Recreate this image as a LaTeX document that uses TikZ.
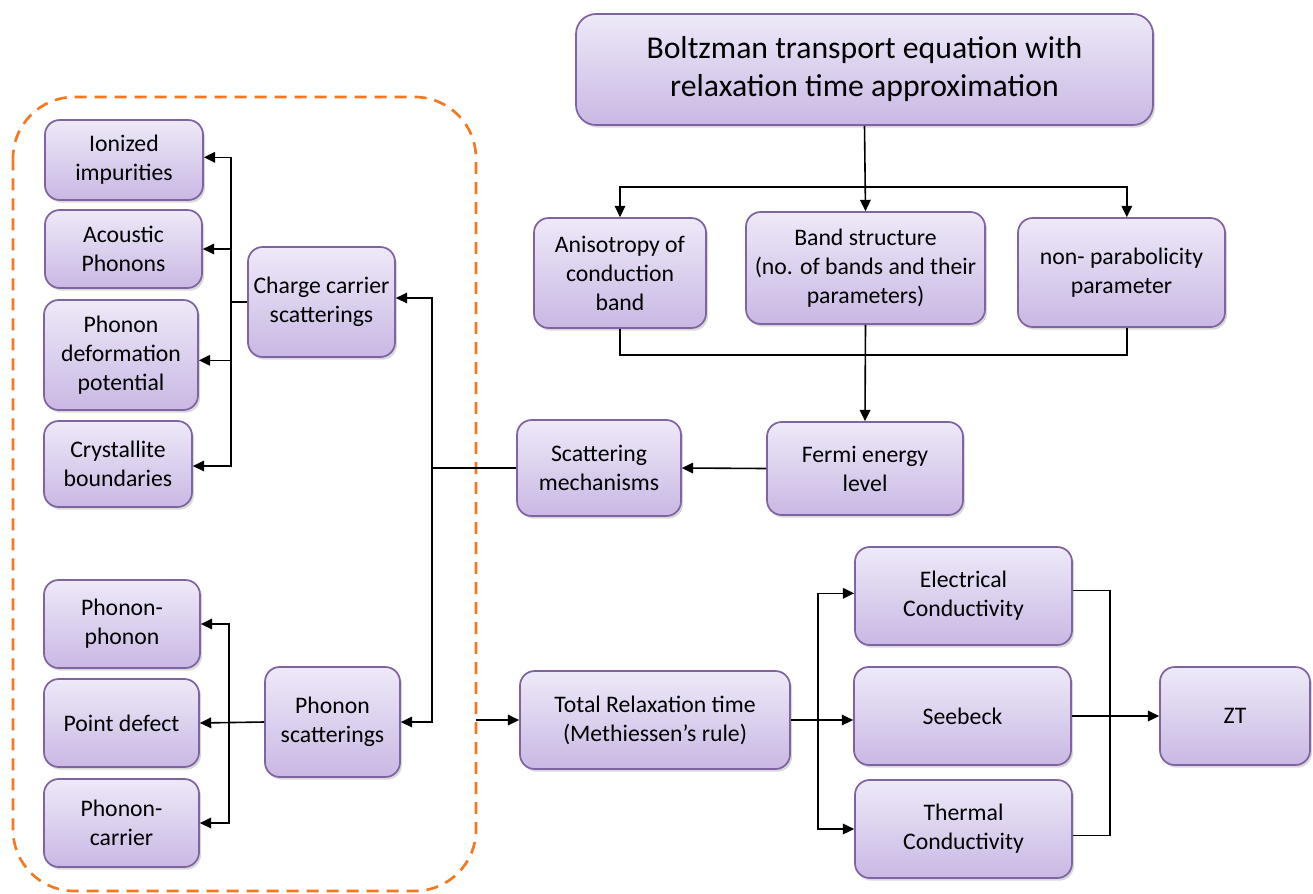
\documentclass[tikz,border=0pt]{standalone}
\usepackage{fontspec}
\setmainfont{Carlito}
\usetikzlibrary{arrows.meta,shadows}
\definecolor{boxtop}{RGB}{238,233,248}
\definecolor{boxbot}{RGB}{201,184,228}
\definecolor{boxline}{RGB}{128,100,162}
\definecolor{dashorange}{RGB}{245,120,30}
\tikzset{
  box/.style={draw=boxline, line width=1.3pt, rounded corners=11pt,
    top color=boxtop, bottom color=boxbot, align=center, inner sep=0pt,
    font=\fontsize{17.8}{21.75}\selectfont,
    drop shadow={shadow xshift=1.5pt, shadow yshift=-2pt, opacity=0.25, fill=black!60}},
  sz/.style 2 args={minimum width=#1*0.75pt, minimum height=#2*0.75pt},
  conn/.style={line width=1.2pt, black},
  arr/.style={conn, -{Triangle[length=8.5pt,width=8pt]}},
  dashbox/.style={draw=dashorange, line width=2pt, dash pattern=on 9pt off 6pt, rounded corners=46pt}
}
\begin{document}
\begin{tikzpicture}[x=0.75pt,y=-0.75pt]
\useasboundingbox (0,0) rectangle (1313,893);
% dashed group
\draw[dashbox] (13,97) rectangle (476,891);
% nodes
\node[box, sz={577}{111}, rounded corners=15pt, font=\fontsize{23.8}{28.5}\selectfont] (blt) at (864.5,69.5) {Boltzman transport equation with\\relaxation time approximation};
\node[box, sz={172}{110}] (aniso) at (620,273) {Anisotropy of\\conduction\\band};
\node[box, sz={239}{112}] (band) at (865.5,268) {Band structure\\(no. of bands and their\\parameters)};
\node[box, sz={207}{109}] (nonp) at (1121.5,272.5) {non- parabolicity\\parameter};
\node[box, sz={196}{93}] (fermi) at (865,468.5) {Fermi energy\\level};
\node[box, sz={164}{96}] (scat) at (599,468) {Scattering\\mechanisms};
\node[box, sz={147}{110}] (charge) at (321.5,302) {Charge carrier\\scatterings};
\node[box, sz={158}{80}] (ion) at (124,160) {Ionized\\impurities};
\node[box, sz={157}{78}] (acou) at (123.5,249) {Acoustic\\Phonons};
\node[box, sz={154}{110}] (pdef) at (121,355) {Phonon\\deformation\\potential};
\node[box, sz={148}{86}] (cryst) at (118,464) {Crystallite\\boundaries};
\node[box, sz={156}{88}] (pp) at (122,624) {Phonon-\\phonon};
\node[box, sz={155}{88}] (point) at (121.5,723) {Point defect};
\node[box, sz={155}{88}] (pc) at (121.5,823) {Phonon-\\carrier};
\node[box, sz={135}{110}] (phon) at (332.5,722) {Phonon\\scatterings};
\node[box, sz={270}{98}] (total) at (655,720) {Total Relaxation time\\(Methiessen’s rule)};
\node[box, sz={217}{98}] (elec) at (963.5,596) {Electrical\\Conductivity};
\node[box, sz={217}{98}] (see) at (962.5,716) {Seebeck};
\node[box, sz={217}{98}] (therm) at (963.5,829) {Thermal\\Conductivity};
\node[box, sz={150}{98}] (zt) at (1235,716) {ZT};
% connectors top
\coordinate (bus1) at (864.5,187);
\draw[arr] (blt.south) -- (band.north);
\draw[arr] (bus1) -| (aniso.north);
\draw[arr] (bus1) -| ([xshift=4pt]nonp.north);
\coordinate (bus2) at (865.5,355);
\draw[conn] (aniso.south) |- (bus2);
\draw[conn] (bus2) -| ([xshift=4pt]nonp.south);
\draw[arr] (band.south) -- (fermi.north);
\draw[arr] (fermi.west) -- (scat.east);
% scattering bus
\coordinate (sbus) at (432,468);
\draw[conn] (scat.west) -- (sbus);
\draw[arr] (sbus) |- ([yshift=3pt]charge.east);
\draw[arr] (sbus) |- (phon.east);
% charge carrier bus
\coordinate (cbus) at (231,302);
\draw[conn] (charge.west) -- (cbus);
\draw[arr] (cbus) |- ([yshift=2pt]ion.east);
\draw[arr] (cbus) |- (acou.east);
\draw[arr] (cbus) |- ([yshift=-4pt]pdef.east);
\draw[arr] (cbus) |- ([yshift=-1.5pt]cryst.east);
% phonon bus
\draw[arr] (phon.west) -- (point.east);
\coordinate (pbus) at (229,723);
\draw[arr] (pbus) |- (pp.east);
\draw[arr] (pbus) |- (pc.east);
% total relaxation
\coordinate (dashR) at (476,720);
\draw[arr] (dashR) -- (total.west);
\coordinate (tbus) at (818,720);
\draw[conn] (total.east) -- (tbus);
\draw[arr] (tbus) |- ([yshift=2pt]elec.west);
\draw[arr] (tbus) -- (tbus -| see.west);
\draw[arr] (tbus) |- (therm.west);
% to ZT
\coordinate (zbus) at (1110,716);
\draw[conn] ([yshift=4pt]elec.east) -| (zbus);
\draw[conn] (zbus) |- ([yshift=-5pt]therm.east);
\draw[arr] (see.east) -- (zt.west);
\end{tikzpicture}
\end{document}
